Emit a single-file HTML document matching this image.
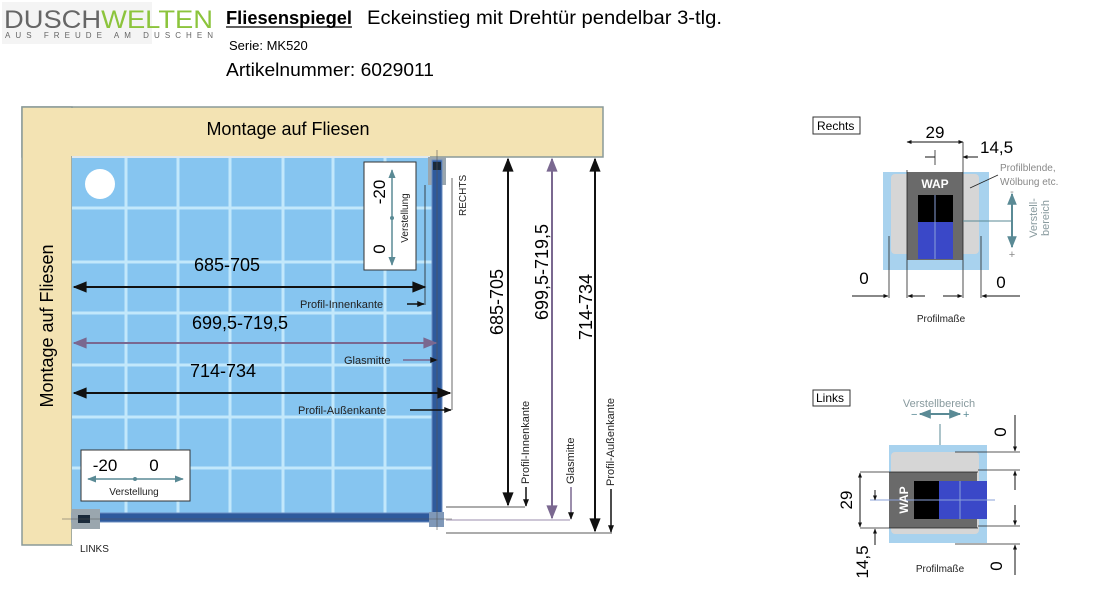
<!DOCTYPE html>
<html><head><meta charset="utf-8"><style>
body{margin:0;background:#fff;width:1116px;height:592px;overflow:hidden}
svg{display:block}
text{font-family:"Liberation Sans",sans-serif}
</style></head><body>
<svg width="1116" height="592" viewBox="0 0 1116 592">
<defs>
<marker id="ab" viewBox="0 0 10 10" refX="9" refY="5" markerWidth="9" markerHeight="7" orient="auto-start-reverse"><path d="M0,1L10,5L0,9z" fill="#111"/></marker>
<marker id="ap" viewBox="0 0 10 10" refX="9" refY="5" markerWidth="9" markerHeight="7" orient="auto-start-reverse"><path d="M0,1L10,5L0,9z" fill="#7a6890"/></marker>
<marker id="as" viewBox="0 0 10 10" refX="9" refY="5" markerWidth="6" markerHeight="5" orient="auto-start-reverse"><path d="M0,1L10,5L0,9z" fill="#111"/></marker>
<marker id="ag" viewBox="0 0 10 10" refX="9" refY="5" markerWidth="6" markerHeight="6" orient="auto-start-reverse"><path d="M0,1L10,5L0,9z" fill="#5a8a95"/></marker>
</defs>
<!-- header -->
<rect x="2" y="2" width="150" height="42" fill="#f4f4f4"/>
<text x="4" y="28" font-size="25" fill="#666" textLength="209" lengthAdjust="spacingAndGlyphs">DUSCH<tspan fill="#8cc43c">WELTEN</tspan></text>
<text x="5" y="38" font-size="8" fill="#666" textLength="208" lengthAdjust="spacing">AUS FREUDE AM DUSCHEN</text>
<text x="226" y="24" font-size="18" font-weight="bold" textLength="126" lengthAdjust="spacingAndGlyphs">Fliesenspiegel</text>
<line x1="226" y1="27" x2="352" y2="27" stroke="#000" stroke-width="1.2"/>
<text x="367" y="24" font-size="19" textLength="355" lengthAdjust="spacingAndGlyphs">Eckeinstieg mit Drehtür pendelbar 3-tlg.</text>
<text x="229" y="50" font-size="13">Serie:  MK520</text>
<text x="226" y="76" font-size="18" textLength="208" lengthAdjust="spacingAndGlyphs">Artikelnummer:  6029011</text>

<!-- walls -->
<rect x="22" y="107" width="581" height="50" fill="#f3e3b3" stroke="#8a9a98" stroke-width="1.5"/>
<rect x="22" y="107" width="50" height="438" fill="#f3e3b3" stroke="#8a9a98" stroke-width="1.5"/>
<rect x="23" y="108" width="579" height="48" fill="#f3e3b3"/>
<rect x="23" y="108" width="48" height="436" fill="#f3e3b3"/>
<!-- tiles -->
<rect x="72" y="157" width="365" height="360" fill="#86c5f0"/>
<g stroke="#c2e8fb" stroke-width="3">
<line x1="126" y1="157" x2="126" y2="517"/><line x1="178" y1="157" x2="178" y2="517"/><line x1="230" y1="157" x2="230" y2="517"/><line x1="283" y1="157" x2="283" y2="517"/><line x1="333" y1="157" x2="333" y2="517"/><line x1="385" y1="157" x2="385" y2="517"/>
<line x1="72" y1="208" x2="437" y2="208"/><line x1="72" y1="262" x2="437" y2="262"/><line x1="72" y1="313" x2="437" y2="313"/><line x1="72" y1="365" x2="437" y2="365"/><line x1="72" y1="417" x2="437" y2="417"/><line x1="72" y1="468" x2="437" y2="468"/>
</g>
<line x1="72" y1="157" x2="430" y2="157" stroke="#dfe8ee" stroke-width="2"/>
<circle cx="100" cy="184" r="15" fill="#fff"/>
<rect x="72" y="517" width="375" height="28" fill="#fff"/>
<text x="80" y="552" font-size="10" fill="#222">LINKS</text>
<!-- profiles -->
<rect x="428" y="157" width="18" height="28" fill="#9aa6ae"/>
<rect x="432" y="160" width="10" height="360" fill="#2e5a9c" stroke="#6a8cc0" stroke-width="1"/>
<rect x="72" y="513" width="370" height="9" fill="#2e5a9c" stroke="#6a8cc0" stroke-width="1"/>
<rect x="72" y="509" width="28" height="20" fill="#9aa6ae"/>
<rect x="78" y="515" width="12" height="8" fill="#1a2a3a"/>
<rect x="433" y="162" width="8" height="8" fill="#1a2a3a"/>
<rect x="429" y="512" width="15" height="15" fill="#7f98b8"/>
<line x1="437" y1="150" x2="437" y2="530" stroke="#555" stroke-width="0.6"/>
<line x1="62" y1="519" x2="452" y2="519" stroke="#555" stroke-width="0.6"/>
<line x1="452" y1="178" x2="452" y2="410" stroke="#444" stroke-width="0.8"/>
<text transform="translate(466,216) rotate(-90)" font-size="10" fill="#222">RECHTS</text>
<!-- wall labels -->
<text x="288" y="135" font-size="18" text-anchor="middle">Montage auf Fliesen</text>
<text transform="translate(53,326) rotate(-90)" font-size="18" text-anchor="middle">Montage auf Fliesen</text>
<!-- horizontal dims -->
<line x1="74" y1="287" x2="425" y2="287" stroke="#111" stroke-width="2" marker-start="url(#ab)" marker-end="url(#ab)"/>
<line x1="425" y1="185" x2="425" y2="305" stroke="#222" stroke-width="0.8"/>
<text x="227" y="271" font-size="18" text-anchor="middle">685-705</text>
<text x="300" y="308" font-size="11" fill="#222">Profil-Innenkante</text>
<line x1="407" y1="304" x2="424" y2="304" stroke="#111" stroke-width="1.5" marker-end="url(#as)"/>
<line x1="74" y1="343" x2="436" y2="343" stroke="#7a6890" stroke-width="2" marker-start="url(#ap)" marker-end="url(#ap)"/>
<text x="240" y="329" font-size="18" text-anchor="middle">699,5-719,5</text>
<text x="344" y="364" font-size="11" fill="#222">Glasmitte</text>
<line x1="403" y1="360" x2="437" y2="360" stroke="#7a6890" stroke-width="1.5" marker-end="url(#as)"/>
<line x1="74" y1="393" x2="450" y2="393" stroke="#111" stroke-width="2" marker-start="url(#ab)" marker-end="url(#ab)"/>
<text x="223" y="377" font-size="18" text-anchor="middle">714-734</text>
<text x="298" y="414" font-size="11" fill="#222">Profil-Außenkante</text>
<line x1="410" y1="410" x2="451" y2="410" stroke="#111" stroke-width="1.5" marker-end="url(#as)"/>
<!-- Verstellung boxes -->
<rect x="364" y="162" width="52" height="108" fill="#fff" stroke="#333" stroke-width="1"/>
<text transform="translate(385,192) rotate(-90)" font-size="17" text-anchor="middle">-20</text>
<text transform="translate(385,249) rotate(-90)" font-size="17" text-anchor="middle">0</text>
<line x1="392" y1="232" x2="392" y2="170" stroke="#5a8a95" stroke-width="1.5" marker-end="url(#ag)"/>
<line x1="392" y1="232" x2="392" y2="265" stroke="#5a8a95" stroke-width="1.5" marker-end="url(#ag)"/>
<circle cx="392" cy="218" r="2" fill="#5a8a95"/>
<text transform="translate(408,218) rotate(-90)" font-size="10" text-anchor="middle" fill="#222">Verstellung</text>
<rect x="81" y="450" width="109" height="51" fill="#fff" stroke="#333" stroke-width="1"/>
<text x="105" y="471" font-size="17" text-anchor="middle">-20</text>
<text x="154" y="471" font-size="17" text-anchor="middle">0</text>
<line x1="135" y1="479" x2="88" y2="479" stroke="#5a8a95" stroke-width="1.5" marker-end="url(#ag)"/>
<line x1="135" y1="479" x2="183" y2="479" stroke="#5a8a95" stroke-width="1.5" marker-end="url(#ag)"/>
<circle cx="135" cy="479" r="2" fill="#5a8a95"/>
<text x="134" y="495" font-size="10" text-anchor="middle" fill="#222">Verstellung</text>
<!-- vertical dims -->
<line x1="446" y1="507" x2="525" y2="507" stroke="#222" stroke-width="0.8"/>
<line x1="446" y1="520" x2="570" y2="520" stroke="#7a6890" stroke-width="0.8"/>
<line x1="446" y1="533" x2="612" y2="533" stroke="#222" stroke-width="0.8"/>
<line x1="508" y1="159" x2="508" y2="505" stroke="#111" stroke-width="2" marker-start="url(#ab)" marker-end="url(#ab)"/>
<text transform="translate(503,302) rotate(-90)" font-size="18" text-anchor="middle">685-705</text>
<line x1="552" y1="159" x2="552" y2="518" stroke="#7a6890" stroke-width="2" marker-start="url(#ap)" marker-end="url(#ap)"/>
<text transform="translate(548,272) rotate(-90)" font-size="18" text-anchor="middle">699,5-719,5</text>
<line x1="595" y1="159" x2="595" y2="531" stroke="#111" stroke-width="2" marker-start="url(#ab)" marker-end="url(#ab)"/>
<text transform="translate(592,307) rotate(-90)" font-size="18" text-anchor="middle">714-734</text>
<text transform="translate(529,484) rotate(-90)" font-size="11" fill="#222">Profil-Innenkante</text>
<line x1="526" y1="487" x2="526" y2="506" stroke="#111" stroke-width="1.5" marker-end="url(#as)"/>
<text transform="translate(574,484) rotate(-90)" font-size="11" fill="#222">Glasmitte</text>
<line x1="571" y1="487" x2="571" y2="519" stroke="#7a6890" stroke-width="1.5" marker-end="url(#as)"/>
<text transform="translate(614,486) rotate(-90)" font-size="11" fill="#222">Profil-Außenkante</text>
<line x1="611" y1="489" x2="611" y2="532" stroke="#111" stroke-width="1.5" marker-end="url(#as)"/>

<!-- Rechts detail -->
<rect x="813" y="117" width="47" height="17" fill="#fff" stroke="#333"/>
<text x="817" y="130" font-size="12">Rechts</text>
<rect x="883" y="172" width="106" height="98" fill="#a8d2ee"/>
<rect x="891" y="174" width="88" height="80" fill="#d6d6d6" rx="4"/>
<rect x="907" y="172" width="56" height="88" fill="#6a6a6a"/>
<rect x="918" y="195" width="35" height="64" fill="#3a48c8"/>
<rect x="918" y="195" width="35" height="27" fill="#000"/>
<line x1="935" y1="195" x2="935" y2="259" stroke="#8aa0d8" stroke-width="1"/>
<text x="935" y="188" font-size="12" fill="#fff" text-anchor="middle" font-weight="bold">WAP</text>
<line x1="907" y1="170" x2="907" y2="298" stroke="#222" stroke-width="0.8"/>
<line x1="963" y1="142" x2="963" y2="298" stroke="#222" stroke-width="0.8"/>
<line x1="907" y1="142" x2="963" y2="142" stroke="#111" stroke-width="1" marker-start="url(#as)" marker-end="url(#as)"/>
<text x="935" y="138" font-size="17" text-anchor="middle">29</text>
<line x1="935" y1="150" x2="935" y2="165" stroke="#222" stroke-width="0.8"/>
<line x1="925" y1="157" x2="935" y2="157" stroke="#111" stroke-width="1"/>
<line x1="978" y1="157" x2="963" y2="157" stroke="#111" stroke-width="1" marker-end="url(#as)"/>
<text x="980" y="153" font-size="17">14,5</text>
<text x="1000" y="171" font-size="10" fill="#888">Profilblende,</text>
<text x="1000" y="185" font-size="10" fill="#888">Wölbung etc.</text>
<line x1="970" y1="188" x2="998" y2="175" stroke="#222" stroke-width="0.8"/>
<line x1="963" y1="221" x2="1012" y2="221" stroke="#5a8a95" stroke-width="1"/>
<line x1="1012" y1="221" x2="1012" y2="194" stroke="#5a8a95" stroke-width="2" marker-end="url(#ag)"/>
<line x1="1012" y1="221" x2="1012" y2="247" stroke="#5a8a95" stroke-width="2" marker-end="url(#ag)"/>
<text x="1012" y="195" font-size="11" fill="#888" text-anchor="middle">-</text>
<text x="1012" y="258" font-size="11" fill="#888" text-anchor="middle">+</text>
<text transform="translate(1037,218) rotate(-90)" font-size="11" fill="#889a9e" text-anchor="middle">Verstell-</text>
<text transform="translate(1049,218) rotate(-90)" font-size="11" fill="#889a9e" text-anchor="middle">bereich</text>
<line x1="889" y1="236" x2="889" y2="298" stroke="#222" stroke-width="0.8"/>
<line x1="981" y1="236" x2="981" y2="298" stroke="#222" stroke-width="0.8"/>
<line x1="852" y1="296" x2="888" y2="296" stroke="#111" stroke-width="1" marker-end="url(#as)"/>
<line x1="925" y1="296" x2="908" y2="296" stroke="#111" stroke-width="1" marker-end="url(#as)"/>
<line x1="943" y1="296" x2="962" y2="296" stroke="#111" stroke-width="1" marker-end="url(#as)"/>
<line x1="1020" y1="296" x2="982" y2="296" stroke="#111" stroke-width="1" marker-end="url(#as)"/>
<text x="864" y="284" font-size="17" text-anchor="middle">0</text>
<text x="1001" y="288" font-size="17" text-anchor="middle">0</text>
<text x="941" y="322" font-size="10" text-anchor="middle" fill="#222">Profilmaße</text>

<!-- Links detail -->
<rect x="813" y="390" width="37" height="16" fill="#fff" stroke="#333"/>
<text x="816" y="402" font-size="12">Links</text>
<text x="939" y="407" font-size="11" fill="#889a9e" text-anchor="middle">Verstellbereich</text>
<text x="911" y="418" font-size="11" fill="#5a8a95">−</text>
<text x="963" y="418" font-size="11" fill="#5a8a95">+</text>
<line x1="940" y1="414" x2="920" y2="414" stroke="#5a8a95" stroke-width="2" marker-end="url(#ag)"/>
<line x1="940" y1="414" x2="960" y2="414" stroke="#5a8a95" stroke-width="2" marker-end="url(#ag)"/>
<line x1="940" y1="424" x2="940" y2="480" stroke="#5a8a95" stroke-width="1"/>
<rect x="889" y="445" width="98" height="98" fill="#a8d2ee"/>
<rect x="891" y="452" width="88" height="82" fill="#d6d6d6" rx="4"/>
<rect x="889" y="472" width="88" height="56" fill="#6a6a6a"/>
<rect x="914" y="481" width="73" height="38" fill="#3a48c8"/>
<rect x="914" y="481" width="25" height="38" fill="#000"/>
<line x1="960" y1="481" x2="960" y2="519" stroke="#8aa0d8"/>
<line x1="870" y1="500" x2="995" y2="500" stroke="#8aa0d8" stroke-width="1"/>
<text transform="translate(908,500) rotate(-90)" font-size="12" fill="#fff" text-anchor="middle" font-weight="bold">WAP</text>
<line x1="860" y1="472" x2="978" y2="472" stroke="#222" stroke-width="0.8"/>
<line x1="860" y1="528" x2="978" y2="528" stroke="#222" stroke-width="0.8"/>
<line x1="860" y1="473" x2="860" y2="527" stroke="#111" stroke-width="1" marker-start="url(#as)" marker-end="url(#as)"/>
<text transform="translate(852,500) rotate(-90)" font-size="17" text-anchor="middle">29</text>
<line x1="875" y1="490" x2="875" y2="500" stroke="#111" stroke-width="1" marker-end="url(#as)"/>
<line x1="875" y1="545" x2="875" y2="529" stroke="#111" stroke-width="1" marker-end="url(#as)"/>
<text transform="translate(868,562) rotate(-90)" font-size="17" text-anchor="middle">14,5</text>
<line x1="955" y1="452" x2="1020" y2="452" stroke="#222" stroke-width="0.8"/>
<line x1="978" y1="470" x2="1020" y2="470" stroke="#222" stroke-width="0.8"/>
<line x1="978" y1="526" x2="1020" y2="526" stroke="#222" stroke-width="0.8"/>
<line x1="955" y1="544" x2="1020" y2="544" stroke="#222" stroke-width="0.8"/>
<line x1="1015" y1="415" x2="1015" y2="451" stroke="#111" stroke-width="1" marker-end="url(#as)"/>
<line x1="1015" y1="490" x2="1015" y2="471" stroke="#111" stroke-width="1" marker-end="url(#as)"/>
<line x1="1015" y1="505" x2="1015" y2="525" stroke="#111" stroke-width="1" marker-end="url(#as)"/>
<line x1="1015" y1="575" x2="1015" y2="545" stroke="#111" stroke-width="1" marker-end="url(#as)"/>
<text transform="translate(1006,432) rotate(-90)" font-size="17" text-anchor="middle">0</text>
<text transform="translate(1002,566) rotate(-90)" font-size="17" text-anchor="middle">0</text>
<text x="940" y="572" font-size="10" text-anchor="middle" fill="#222">Profilmaße</text>
</svg>
</body></html>
